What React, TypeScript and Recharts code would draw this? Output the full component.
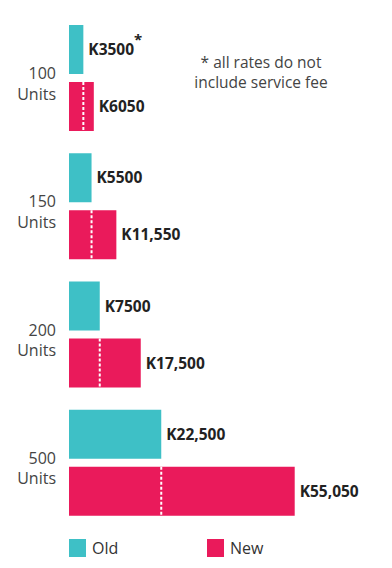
import React from 'react';
import { BarChart, Bar, XAxis, YAxis, LabelList, Legend } from 'recharts';

const categories = ['100', '150', '200', '500'];
const oldRates = [3500, 5500, 7500, 22500];
const newRates = [6050, 11550, 17500, 55050];
const footnoteOn = '100';

const TEAL = '#3ec0c6';
const PINK = '#ea1a5b';
const FONT = '"Open Sans", sans-serif';

const data = categories.map((c, i) => ({ units: c, old: oldRates[i], new: newRates[i] }));

const fmt = (v: number) => (v >= 10000 ? 'K' + v.toLocaleString('en-US') : 'K' + v);

const UnitTick = ({ x, y, payload }: any) => (
  <text x={x} y={y} textAnchor="end" fill="#444" fontSize={16} fontFamily={FONT}>
    <tspan x={x} dy={1}>{payload.value}</tspan>
    <tspan x={x} dy={20.5}>Units</tspan>
  </text>
);

// new bar with a white dotted marker where the old rate ended
const NewBar = (props: any) => {
  const { x, y, width, height, payload, fill } = props;
  const mx = x + (width * payload.old) / payload.new;
  return (
    <g>
      <rect x={x} y={y} width={width} height={height} fill={fill} />
      <line x1={mx} x2={mx} y1={y} y2={y + height} stroke="#fff" strokeWidth={2} strokeDasharray="3 2" />
    </g>
  );
};

const ValueLabel = (props: any) => {
  const { x, y, width, height, value, index } = props;
  const star = data[index].units === footnoteOn && props.series === 'old';
  return (
    <text x={x + width + 5} y={y + height / 2} dy={5.5} fill="#222" fontSize={15.5} fontWeight={700} fontFamily={FONT}>
      {fmt(value)}
      {star && <tspan dy={-10} fontSize={15}>*</tspan>}
    </text>
  );
};

const LegendBox = () => (
  <div style={{ height: 32, position: 'relative', fontFamily: FONT, fontSize: 16, color: '#333' }}>
    {[
      { name: 'Old', color: TEAL, left: 69 },
      { name: 'New', color: PINK, left: 207 },
    ].map((it) => (
      <div key={it.name} style={{ position: 'absolute', left: it.left, bottom: 0, display: 'flex', alignItems: 'center' }}>
        <span style={{ display: 'inline-block', width: 17, height: 18, background: it.color, marginRight: 6 }} />
        <span>{it.name}</span>
      </div>
    ))}
  </div>
);

export default function App() {
  return (
    <div style={{ position: 'absolute', left: 0, top: 0, width: 392, height: 568, background: '#fff' }}>
      <BarChart
        width={392}
        height={568}
        data={data}
        layout="vertical"
        margin={{ top: 14, right: 77, left: 0, bottom: 9 }}
        barSize={49}
        barGap={8}
      >
        <XAxis type="number" domain={[0, 60000]} hide />
        <YAxis
          type="category"
          dataKey="units"
          width={69}
          axisLine={false}
          tickLine={false}
          tickSize={0}
          tickMargin={13}
          tick={<UnitTick />}
        />
        <Legend
          verticalAlign="bottom"
          align="left"
          wrapperStyle={{ left: 0, width: 392 }}
          content={<LegendBox />}
        />
        <Bar dataKey="old" name="Old" fill={TEAL} isAnimationActive={false}>
          <LabelList dataKey="old" content={(p: any) => <ValueLabel {...p} series="old" />} />
        </Bar>
        <Bar dataKey="new" name="New" fill={PINK} shape={<NewBar />} isAnimationActive={false}>
          <LabelList dataKey="new" content={(p: any) => <ValueLabel {...p} series="new" />} />
        </Bar>
      </BarChart>
      <div
        style={{
          position: 'absolute',
          left: 181,
          top: 52,
          width: 160,
          textAlign: 'center',
          fontFamily: FONT,
          fontSize: 15.5,
          lineHeight: '20px',
          color: '#444',
        }}
      >
        * all rates do not
        <br />
        include service fee
      </div>
    </div>
  );
}
